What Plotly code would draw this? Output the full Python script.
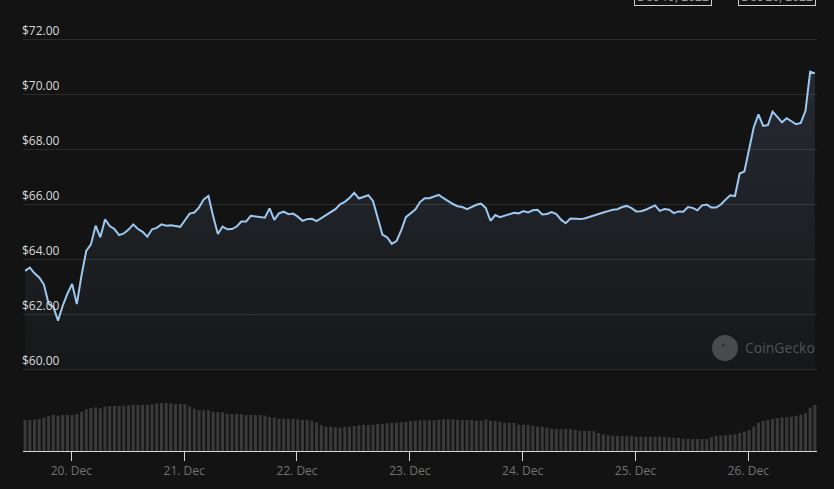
import plotly.graph_objects as go
import pandas as pd

START = "2022-12-19 14:10"

prices = [
    63.57, 63.69, 63.48, 63.33, 63.07, 62.37, 62.26, 61.76, 62.30, 62.74,
    63.09, 62.36, 63.41, 64.29, 64.53, 65.21, 64.79, 65.44, 65.20, 65.09,
    64.87, 64.93, 65.07, 65.26, 65.09, 64.99, 64.81, 65.08, 65.13, 65.26,
    65.21, 65.23, 65.20, 65.17, 65.41, 65.65, 65.69, 65.88, 66.17, 66.29,
    65.55, 64.91, 65.18, 65.08, 65.09, 65.18, 65.36, 65.36, 65.57, 65.54,
    65.51, 65.50, 65.84, 65.42, 65.66, 65.72, 65.63, 65.65, 65.54, 65.39,
    65.45, 65.46, 65.38, 65.49, 65.57, 65.70, 65.81, 65.99, 66.08, 66.22,
    66.41, 66.20, 66.27, 66.32, 66.11, 65.48, 64.89, 64.79, 64.55, 64.65,
    65.04, 65.52, 65.67, 65.80, 66.07, 66.21, 66.21, 66.26, 66.33, 66.21,
    66.10, 66.00, 65.92, 65.89, 65.81, 65.90, 65.97, 66.01, 65.85, 65.39,
    65.60, 65.52, 65.57, 65.63, 65.68, 65.66, 65.74, 65.69, 65.77, 65.79,
    65.62, 65.64, 65.71, 65.63, 65.43, 65.30, 65.47, 65.46, 65.45, 65.47,
    65.53, 65.59, 65.65, 65.69, 65.74, 65.79, 65.81, 65.89, 65.93, 65.85,
    65.73, 65.74, 65.79, 65.87, 65.95, 65.75, 65.82, 65.79, 65.67, 65.73,
    65.72, 65.89, 65.86, 65.77, 65.95, 65.98, 65.87, 65.87, 65.98, 66.16,
    66.32, 66.29, 67.11, 67.18, 68.01, 68.79, 69.26, 68.84, 68.87, 69.36,
    69.17, 68.97, 69.12, 69.02, 68.90, 68.95, 69.39, 70.81, 70.75,
]

volumes = [  # 24h volume, $M
    310, 310, 313, 320, 333, 347, 360, 353, 360, 360,
    360, 373, 393, 417, 430, 437, 427, 443, 450, 450,
    450, 453, 457, 463, 460, 460, 460, 467, 477, 480,
    480, 477, 470, 470, 467, 443, 423, 410, 407, 407,
    393, 387, 387, 373, 370, 370, 367, 360, 360, 360,
    360, 353, 340, 333, 323, 323, 323, 323, 317, 310,
    310, 303, 287, 257, 243, 243, 237, 233, 240, 243,
    250, 257, 260, 260, 263, 270, 270, 277, 283, 283,
    287, 293, 300, 303, 307, 307, 307, 307, 313, 317,
    317, 317, 313, 310, 310, 310, 303, 303, 317, 303,
    300, 293, 283, 283, 280, 263, 263, 260, 253, 243,
    243, 233, 223, 220, 220, 220, 217, 210, 203, 200,
    200, 197, 180, 167, 157, 153, 153, 153, 153, 153,
    143, 143, 143, 143, 143, 143, 140, 137, 133, 133,
    123, 120, 120, 120, 120, 120, 137, 150, 153, 157,
    163, 167, 180, 193, 210, 243, 283, 300, 310, 320,
    330, 337, 337, 343, 350, 363, 377, 433, 460,
]

price_ticks = [60, 62, 64, 66, 68, 70, 72]
day_ticks = pd.date_range("2022-12-20", "2022-12-26", freq="D")
range_labels = ["Dec 19, 2022", "Dec 26, 2022"]
FILL_BASE = 60

times = pd.date_range(START, periods=len(prices), freq="h")

BG = "#131313"
LINE = "#9cc8f2"

fig = go.Figure()

fig.add_trace(go.Bar(
    x=times, y=volumes, yaxis="y2",
    marker=dict(color="#3a3a3a", line=dict(width=0)),
    hoverinfo="skip", showlegend=False,
))

fig.add_trace(go.Scatter(
    x=times, y=[FILL_BASE] * len(prices), mode="lines",
    line=dict(width=0, color="rgba(0,0,0,0)"),
    hoverinfo="skip", showlegend=False,
))

fig.add_trace(go.Scatter(
    x=times, y=prices, mode="lines",
    line=dict(color=LINE, width=2),
    fill="tonexty",
    fillgradient=dict(
        type="vertical",
        colorscale=[[0, "rgba(130,160,200,0.03)"], [1, "rgba(130,160,200,0.17)"]],
        start=60, stop=71,
    ),
    showlegend=False,
))

fig.update_layout(
    width=834, height=489,
    margin=dict(l=23, r=17, t=0, b=38),
    paper_bgcolor=BG, plot_bgcolor=BG,
    font=dict(family="Open Sans, Noto Sans, sans-serif", color="#d0d0d0", size=12),
    bargap=0.35,
    xaxis=dict(
        type="date",
        range=["2022-12-19 13:43", "2022-12-26 14:37"],
        showgrid=False, zeroline=False,
        showline=True, linecolor="#d6d6d6", linewidth=1,
        ticks="outside", ticklen=9, tickcolor="#d6d6d6", tickwidth=1,
        tickvals=day_ticks, tickformat="%d. %b",
        tickfont=dict(color="#727272", size=12),
        anchor="y2",
    ),
    yaxis=dict(
        domain=[0.17, 1],
        range=[59.806, 73.418],
        tickvals=price_ticks,
        ticktext=[f"${v:.2f}" for v in price_ticks],
        ticklabelposition="inside top",
        ticklabelstandoff=-4,
        tickfont=dict(color="#dadada", size=12),
        showgrid=True, gridcolor="#2c2c2c", gridwidth=1,
        zeroline=False, showline=False, ticks="",
    ),
    yaxis2=dict(
        domain=[0, 0.15], range=[0, 676],
        visible=False,
    ),
    shapes=[
        dict(type="circle", xref="paper", yref="paper",
             xsizemode="pixel", ysizemode="pixel",
             xanchor=0.8841, yanchor=0.2284,
             x0=-13, x1=13, y0=-13, y1=13,
             fillcolor="#474747", line=dict(width=0), layer="below"),
        dict(type="circle", xref="paper", yref="paper",
             xsizemode="pixel", ysizemode="pixel",
             xanchor=0.882, yanchor=0.235,
             x0=-1.5, x1=1.5, y0=-1.5, y1=1.5,
             fillcolor="#2e2e2e", line=dict(width=0), layer="below"),
    ],
    annotations=[
        dict(text="CoinGecko", xref="paper", yref="paper",
             x=0.9068, y=0.2284, xanchor="left", yanchor="middle",
             showarrow=False, font=dict(size=14, color="#535353")),
        dict(text=range_labels[0], xref="paper", yref="paper",
             x=(673 - 23) / 794, y=1 - 6 / 451, xanchor="center", yanchor="bottom",
             showarrow=False, width=74, height=16, borderpad=1,
             bordercolor="#cfcfcf", borderwidth=1, bgcolor=BG,
             font=dict(size=12, color="#9a9a9a")),
        dict(text=range_labels[1], xref="paper", yref="paper",
             x=(776.5 - 23) / 794, y=1 - 6 / 451, xanchor="center", yanchor="bottom",
             showarrow=False, width=74, height=16, borderpad=1,
             bordercolor="#cfcfcf", borderwidth=1, bgcolor=BG,
             font=dict(size=12, color="#9a9a9a")),
    ],
)

fig.write_html(
    "out.html",
    config={"displayModeBar": False},
    post_script="document.body.style.margin='0';document.body.style.background='#131313';document.body.style.overflow='hidden';",
)
